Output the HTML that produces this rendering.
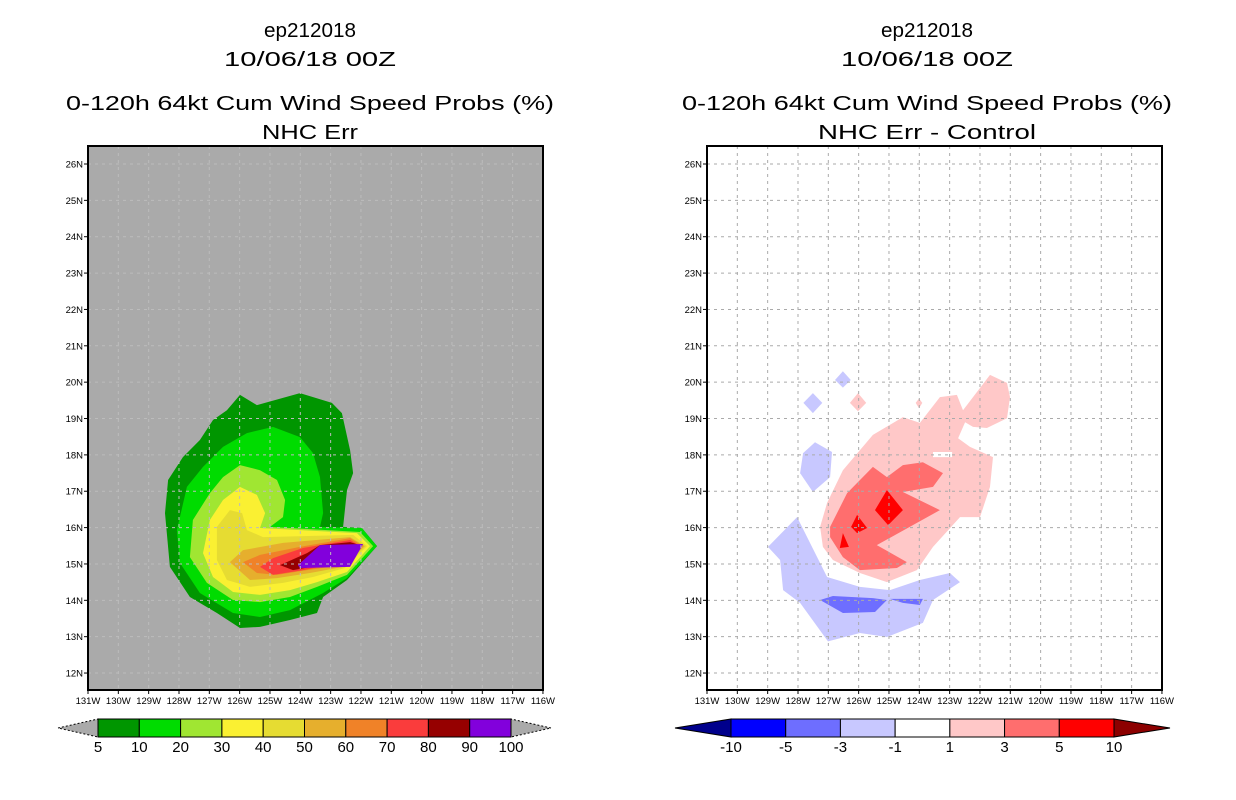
<!DOCTYPE html>
<html><head><meta charset="utf-8">
<style>
html,body{margin:0;padding:0;background:#fff;}
svg{display:block;font-family:"Liberation Sans",sans-serif;}
</style></head>
<body>
<svg id="chart" width="1236" height="800" viewBox="0 0 1236 800" xmlns="http://www.w3.org/2000/svg">
  <g font-size="20" text-anchor="middle" fill="#000">
    <text x="310" y="37" textLength="92" lengthAdjust="spacingAndGlyphs">ep212018</text>
    <text x="310" y="66" textLength="172" lengthAdjust="spacingAndGlyphs">10/06/18 00Z</text>
    <text x="310" y="110" textLength="488" lengthAdjust="spacingAndGlyphs">0-120h 64kt Cum Wind Speed Probs (%)</text>
    <text x="310" y="139" textLength="96" lengthAdjust="spacingAndGlyphs">NHC Err</text>
  </g>
  <g font-size="20" text-anchor="middle" fill="#000">
    <text x="927" y="37" textLength="92" lengthAdjust="spacingAndGlyphs">ep212018</text>
    <text x="927" y="66" textLength="172" lengthAdjust="spacingAndGlyphs">10/06/18 00Z</text>
    <text x="927" y="110" textLength="490" lengthAdjust="spacingAndGlyphs">0-120h 64kt Cum Wind Speed Probs (%)</text>
    <text x="927" y="139" textLength="218" lengthAdjust="spacingAndGlyphs">NHC Err - Control</text>
  </g>
</svg>
<script>
// ---------- data ----------
var lonTicks = [131,130,129,128,127,126,125,124,123,122,121,120,119,118,117,116];
var latTicks = [12,13,14,15,16,17,18,19,20,21,22,23,24,25,26];
var leftLevels = ['5','10','20','30','40','50','60','70','80','90','100'];
var leftColors = ['#009600','#00dc00','#a0e632','#faf032','#e6dc32','#e6af2d','#f08228','#fa3c3c','#960000','#8200dc'];
var rightLevels = ['-10','-5','-3','-1','1','3','5','10'];
var rightColors = ['#0000ff','#6e6eff','#c8c8ff','#ffffff','#ffc8c8','#ff6e6e','#ff0000'];
// contours [lonW, lat]
var probs5 = [[125.99,19.65],[125.43,19.37],[124.01,19.70],[122.96,19.43],[122.63,19.15],[122.36,18.13],[122.26,17.50],[122.46,17.03],[122.59,16.02],[121.97,15.99],[121.47,15.49],[122.46,14.56],[123.25,14.09],[123.45,13.65],[124.34,13.46],[125.33,13.27],[125.99,13.24],[126.75,13.65],[127.64,14.09],[128.30,14.92],[128.46,16.40],[128.36,17.31],[127.87,17.94],[127.31,18.41],[126.88,18.96],[126.42,19.23]];
var probs10 = [[124.90,18.77],[124.01,18.49],[123.58,18.05],[123.35,17.39],[123.25,16.40],[123.35,16.02],[121.97,15.99],[121.47,15.49],[122.46,14.61],[123.25,14.20],[124.34,13.73],[125.33,13.54],[126.22,13.65],[127.31,14.20],[127.97,15.03],[128.07,15.93],[127.74,17.12],[127.21,17.67],[126.55,18.22],[125.76,18.60]];
var probs20 = [[125.99,17.72],[125.33,17.58],[124.77,17.31],[124.50,16.76],[124.57,16.29],[125.00,16.02],[122.03,15.88],[121.60,15.49],[122.46,14.70],[123.45,14.37],[124.34,14.09],[125.33,13.95],[126.22,14.01],[127.08,14.48],[127.64,15.19],[127.54,16.21],[126.98,16.95],[126.55,17.39]];
var probs30 = [[125.99,17.12],[125.43,16.90],[125.16,16.40],[125.33,15.99],[122.13,15.85],[121.70,15.49],[122.46,14.78],[123.45,14.50],[124.34,14.28],[125.33,14.15],[126.22,14.23],[126.88,14.64],[127.21,15.30],[126.98,16.21],[126.55,16.76]];
var probs40 = [[126.32,16.48],[125.92,16.40],[125.76,15.93],[125.23,15.74],[122.26,15.80],[121.80,15.49],[122.53,14.89],[123.58,14.64],[124.57,14.48],[125.66,14.37],[126.42,14.56],[126.75,15.11],[126.75,16.02]];
var probs50 = [[126.32,15.05],[125.89,15.38],[124.57,15.58],[122.36,15.74],[121.87,15.49],[122.59,14.92],[123.68,14.75],[124.77,14.61],[125.66,14.56]];
var probs60 = [[125.89,15.05],[125.33,15.25],[124.01,15.47],[122.36,15.71],[121.93,15.49],[122.63,14.97],[123.78,14.83],[124.77,14.70],[125.43,14.75]];
var probs70 = [[125.33,14.92],[124.90,15.16],[123.91,15.44],[122.36,15.66],[122.03,15.49],[122.69,15.03],[123.91,14.83],[124.90,14.70]];
var probs80 = [[124.67,14.97],[123.78,15.30],[123.35,15.52],[122.36,15.60],[122.03,15.52],[122.76,15.05],[124.24,14.83]];
var probs90 = [[124.08,14.97],[123.35,15.52],[121.93,15.55],[122.36,14.92],[124.01,14.89]];
var leftContours = [probs5,probs10,probs20,probs30,probs40,probs50,probs60,probs70,probs80,probs90];

var diffPos1 = [[124.54,19.04],[123.98,18.88],[123.32,19.59],[122.76,19.65],[122.56,19.23],[121.67,20.20],[121.11,19.98],[121.01,19.59],[121.11,19.01],[121.77,18.74],[122.23,18.77],[122.49,18.90],[122.72,18.46],[122.33,18.22],[121.57,17.94],[121.67,17.12],[122.00,16.29],[122.66,16.29],[123.55,15.47],[124.08,14.83],[125.07,14.50],[125.96,14.75],[126.85,15.11],[127.18,15.47],[127.27,16.02],[127.04,16.68],[126.52,17.58],[125.53,18.55]];
var diffHole = [[123.55,18.08],[122.92,18.08],[122.92,17.94],[123.55,17.94]];
var diffPos3 = [[125.53,17.67],[125.07,17.39],[124.54,17.72],[123.88,17.80],[123.22,17.50],[123.55,17.12],[124.54,16.98],[123.32,16.48],[125.40,15.52],[124.41,15.05],[124.74,14.89],[125.96,14.83],[126.52,15.19],[126.94,15.74],[126.94,16.02],[126.38,16.95]];
var diffPos5a = [[125.07,17.03],[124.54,16.48],[125.03,16.07],[125.46,16.48]];
var diffPos5b = [[126.05,16.35],[125.72,15.99],[126.05,15.85],[126.25,16.02]];
var diffPos5c = [[126.52,15.85],[126.32,15.47],[126.62,15.44]];
var diffPos1b = [[126.02,19.70],[125.75,19.43],[126.02,19.20],[126.29,19.43]];
var diffPos1c = [[124.01,19.55],[123.90,19.43],[124.01,19.28],[124.12,19.43]];
var diffNeg1 = [[128.99,15.47],[128.03,16.29],[127.04,14.64],[125.96,14.37],[124.97,14.28],[123.98,14.56],[122.99,14.75],[122.66,14.50],[123.55,14.01],[123.88,13.38],[125.07,12.99],[125.96,13.10],[127.01,12.87],[127.93,13.93],[128.49,14.28],[128.59,15.11]];
var diffNeg3a = [[127.27,14.01],[126.85,14.12],[125.53,14.06],[125.07,14.01],[125.46,13.68],[126.52,13.65]];
var diffNeg3b = [[124.97,14.04],[123.88,14.04],[123.98,13.87],[124.54,13.93]];
var diffNeg1b = [[127.44,18.35],[126.88,18.08],[126.94,17.39],[127.51,16.98],[127.93,17.50],[127.83,18.05]];
var diffNeg1c = [[127.51,19.70],[127.20,19.43],[127.51,19.15],[127.82,19.43]];
var diffNeg1d = [[126.52,20.30],[126.26,20.06],[126.52,19.85],[126.78,20.06]];
var rightContours = [[diffNeg1,'#c8c8ff'],[diffNeg3a,'#6e6eff'],[diffNeg3b,'#6e6eff'],[diffNeg1b,'#c8c8ff'],[diffNeg1c,'#c8c8ff'],[diffNeg1d,'#c8c8ff'],[diffPos1,'#ffc8c8'],[diffHole,'#ffffff'],[diffPos1b,'#ffc8c8'],[diffPos1c,'#ffc8c8'],[diffPos3,'#ff6e6e'],[diffPos5a,'#ff0000'],[diffPos5b,'#ff0000'],[diffPos5c,'#ff0000']];

// ---------- drawing ----------
var NS = 'http://www.w3.org/2000/svg';
var svg = document.getElementById('chart');
function mk(tag, attrs, parent){var e=document.createElementNS(NS,tag);for(var k in attrs)e.setAttribute(k,attrs[k]);(parent||svg).appendChild(e);return e;}
var FY0=146, FY1=690;
function yScale(lat){return 164 + (26-lat)*36.36;}
function makeX(x0){return function(lonW){return x0 + (131-lonW)*30.33;};}
function polyPts(poly, xs){return poly.map(function(p){return xs(p[0]).toFixed(1)+','+yScale(p[1]).toFixed(1);}).join(' ');}

function panel(x0, bg, gridColor, name){
  var xs = makeX(x0), x1 = x0+455;
  var g = mk('g',{});
  
  
  var r = mk('rect',{x:x0,y:FY0,width:455,height:FY1-FY0,fill:bg},g);
  
  
  return {g:g, xs:xs, x0:x0, x1:x1, gridColor:gridColor, name:name};
}
function gridAndAxes(P){
  var gg = mk('g',{stroke:P.gridColor,'stroke-width':1,'stroke-dasharray':'3,4'},P.g);
  
  
  lonTicks.forEach(function(l){var x=P.xs(l);if(x>P.x0+1&&x<P.x1-1)mk('line',{x1:x,y1:FY0,x2:x,y2:FY1},gg);});
  latTicks.forEach(function(l){var y=yScale(l);mk('line',{x1:P.x0,y1:y,x2:P.x1,y2:y},gg);});
  var fr = mk('rect',{x:P.x0,y:FY0,width:455,height:FY1-FY0,fill:'none',stroke:'#000','stroke-width':2},P.g);
  
  
  var ax = mk('g',{'font-size':9.5,fill:'#000'},P.g);
  
  
  lonTicks.forEach(function(l){
    var x=P.xs(l);
    mk('line',{x1:x,y1:FY1,x2:x,y2:FY1+4,stroke:'#000','stroke-width':1},ax);
    var t=mk('text',{x:x,y:FY1+14,'text-anchor':'middle'},ax);t.textContent=l+'W';
    
    
  });
  latTicks.forEach(function(l){
    var y=yScale(l);
    mk('line',{x1:P.x0-4,y1:y,x2:P.x0,y2:y,stroke:'#000','stroke-width':1},ax);
    var t=mk('text',{x:P.x0-5,y:y+3.5,'text-anchor':'end'},ax);t.textContent=l+'N';
    
    
  });
}

var L = panel(88,'#aaaaaa','#bcbcbc','left-map-panel');
leftContours.forEach(function(poly,i){
  var p = mk('polygon',{points:polyPts(poly,L.xs),fill:leftColors[i]},L.g);
  
  
});
gridAndAxes(L);

var R = panel(707,'#ffffff','#aaaaaa','right-map-panel');
rightContours.forEach(function(c){
  var p = mk('polygon',{points:polyPts(c[0],R.xs),fill:c[1]},R.g);
  
  
});
gridAndAxes(R);

// colorbars
function colorbar(x0,x1,tri,colors,labels,leftTri,rightTri,name,dashed){
  var g = mk('g',{'font-size':15,fill:'#000'});
  
  
  var y0=719,y1=737,ym=728,w=(x1-x0)/colors.length;
  var lt = mk('polygon',{points:(x0-tri)+','+ym+' '+x0+','+y0+' '+x0+','+y1,fill:leftTri,stroke:'#000','stroke-width':1,'stroke-dasharray':dashed?'2,2':'none'},g);
  
  
  var rt = mk('polygon',{points:(x1+tri)+','+ym+' '+x1+','+y0+' '+x1+','+y1,fill:rightTri,stroke:'#000','stroke-width':1,'stroke-dasharray':dashed?'2,2':'none'},g);
  
  
  colors.forEach(function(c,i){
    var b = mk('rect',{x:x0+i*w,y:y0,width:w,height:y1-y0,fill:c,stroke:'#000','stroke-width':1},g);
    
    
  });
  labels.forEach(function(l,i){
    var t = mk('text',{x:x0+i*w,y:y1+15,'text-anchor':'middle'},g);t.textContent=l;
    
    
  });
}
colorbar(98,511,40,leftColors,leftLevels,'#aaaaaa','#aaaaaa','left-colorbar',true);
colorbar(731,1114,56,rightColors,rightLevels,'#00008c','#8c0000','right-colorbar',false);
</script>
</body></html>
